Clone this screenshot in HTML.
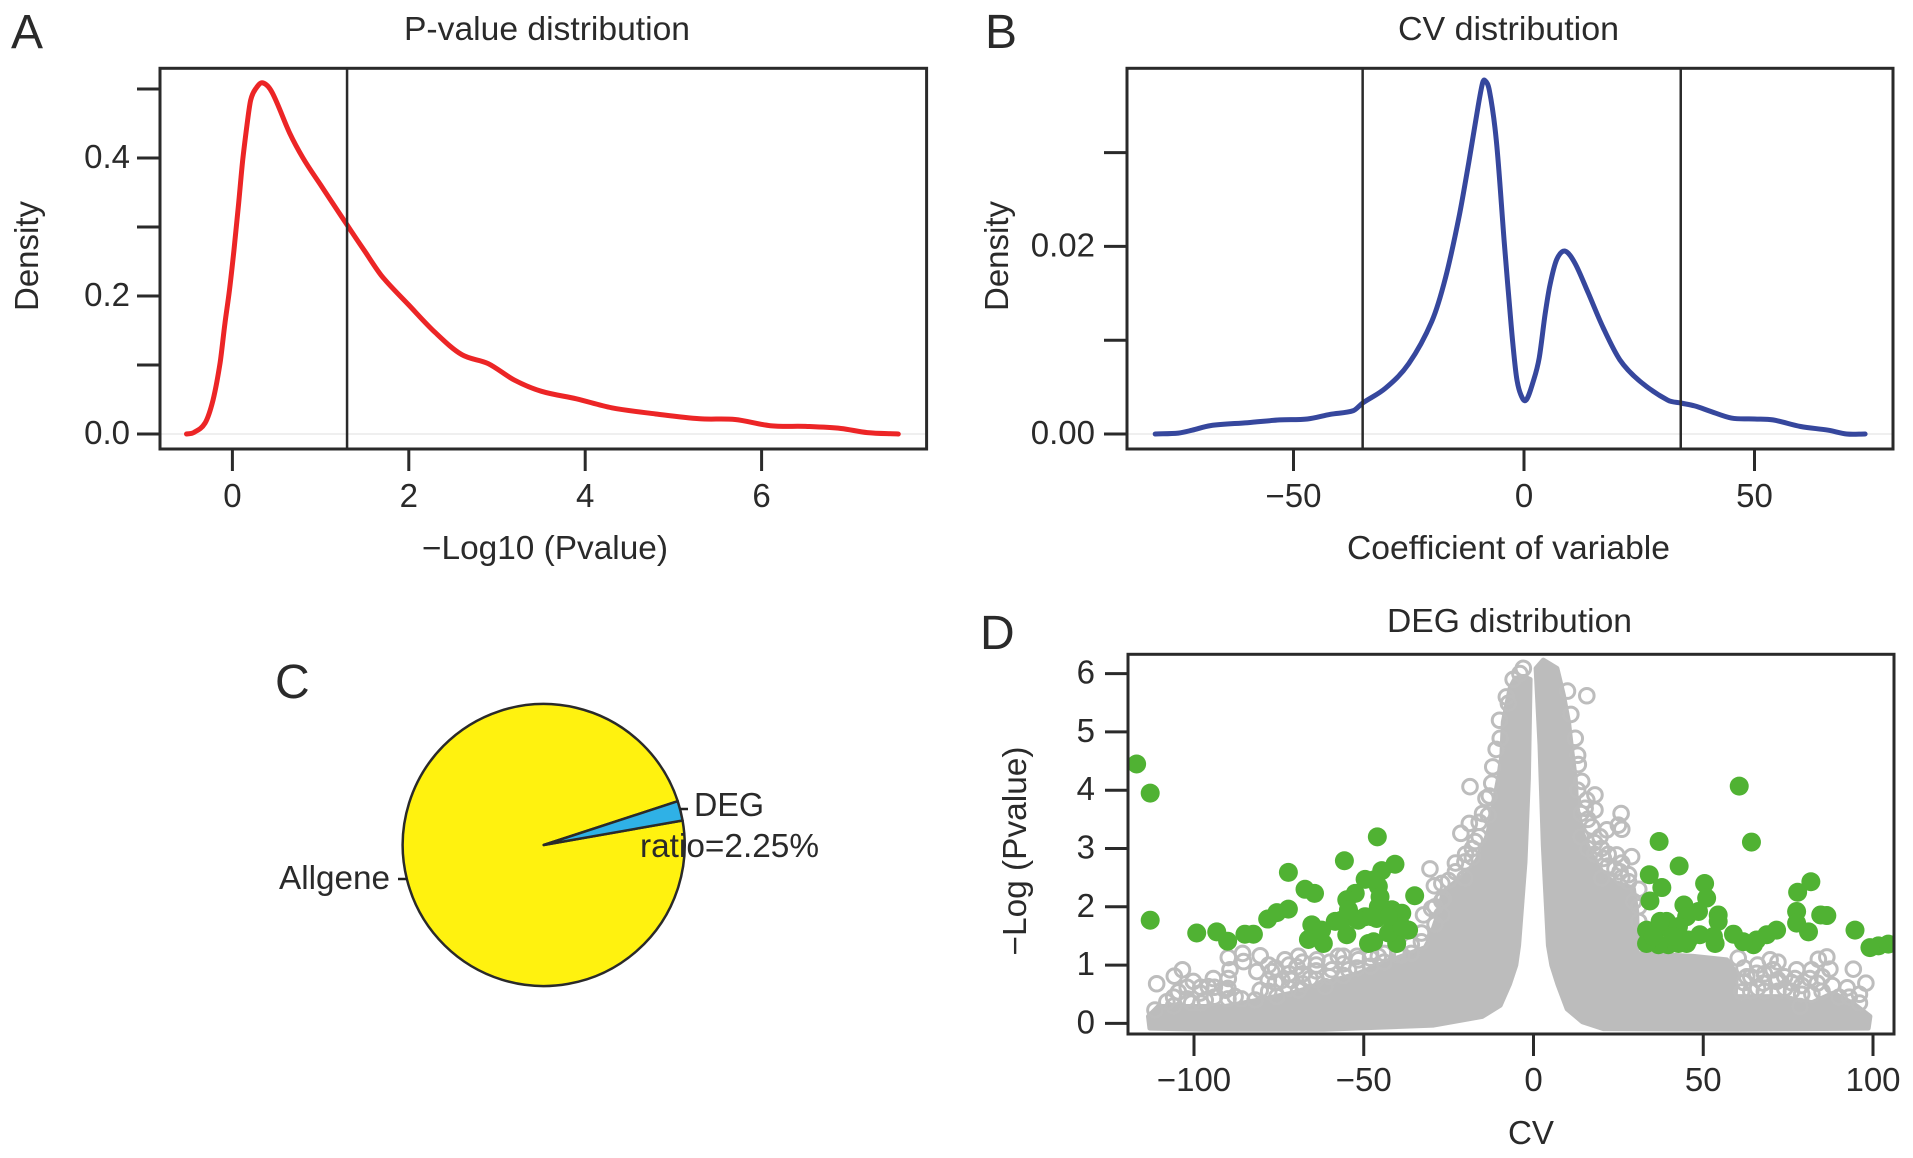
<!DOCTYPE html>
<html lang="en">
<head>
<meta charset="utf-8">
<title>Four panel figure</title>
<style>
html,body{margin:0;padding:0;background:#fff;width:1913px;height:1158px;overflow:hidden}
svg{display:block}
text{font-family:"Liberation Sans",Arial,sans-serif;fill:#2a2a2a}
</style>
</head>
<body>
<svg id="fig" xmlns="http://www.w3.org/2000/svg" width="1913" height="1158" viewBox="0 0 1913 1158">
  <defs><clipPath id="clipD"><rect x="1128" y="654.3" width="766" height="379.7"/></clipPath></defs>
  <g id="panelA"></g>
  <g id="panelB"></g>
  <g id="panelC"></g>
  <g id="panelD"></g>

  <text x="11" y="48" font-size="48">A</text>
  <text x="985" y="48" font-size="48">B</text>
  <text x="275" y="698" font-size="48">C</text>
  <text x="980" y="649" font-size="48">D</text>

  <text x="404" y="40" font-size="33" textLength="286" lengthAdjust="spacingAndGlyphs">P-value distribution</text>
  <text x="1398" y="40" font-size="33" textLength="221" lengthAdjust="spacingAndGlyphs">CV distribution</text>
  <text x="1387" y="632" font-size="33" textLength="245" lengthAdjust="spacingAndGlyphs">DEG distribution</text>

  <text x="422" y="559" font-size="33" textLength="246" lengthAdjust="spacingAndGlyphs">−Log10 (Pvalue)</text>
  <text x="1347" y="559" font-size="33" textLength="323" lengthAdjust="spacingAndGlyphs">Coefficient of variable</text>
  <text x="1508" y="1144" font-size="33" textLength="46" lengthAdjust="spacingAndGlyphs">CV</text>

  <text transform="translate(38,256) rotate(-90)" font-size="33" text-anchor="middle">Density</text>
  <text transform="translate(1008,256) rotate(-90)" font-size="33" text-anchor="middle">Density</text>
  <text transform="translate(1026,851) rotate(-90)" font-size="33" text-anchor="middle" textLength="209" lengthAdjust="spacingAndGlyphs">−Log (Pvalue)</text>

  <g id="pieLabels">
    <line x1="680" y1="809" x2="688" y2="809" stroke="#222" stroke-width="2.5"/>
    <line x1="398" y1="879" x2="407" y2="879" stroke="#222" stroke-width="2.5"/>
    <text x="694" y="816" font-size="33" textLength="70" lengthAdjust="spacingAndGlyphs">DEG</text>
    <text x="640" y="857" font-size="33" textLength="179" lengthAdjust="spacingAndGlyphs">ratio=2.25%</text>
    <text x="279" y="889" font-size="33" textLength="111" lengthAdjust="spacingAndGlyphs">Allgene</text>
  </g>
</svg>

<script>
// Panel A data: P-value density
const pvalX = [-0.52,-0.44,-0.31,-0.22,-0.14,-0.084,-0.033,0.018,0.069,0.117,0.166,0.207,0.268,0.344,0.45,0.65,0.8,1,1.3,1.5,1.7,2,2.3,2.6,2.9,3.2,3.5,3.9,4.3,4.8,5.3,5.7,6.1,6.5,6.9,7.2,7.55];
const pvalDensity = [0,0.002,0.016,0.049,0.103,0.161,0.209,0.267,0.332,0.397,0.448,0.484,0.501,0.509,0.495,0.436,0.4,0.361,0.303,0.265,0.228,0.187,0.147,0.115,0.102,0.078,0.062,0.051,0.038,0.029,0.022,0.021,0.012,0.011,0.008,0.002,0];
const pvalCutoffs = [1.3];
const pvalXTicks = [0,2,4,6];
const pvalYTicks = [0,0.1,0.2,0.3,0.4,0.5];
const pvalYLabels = ['0.0','','0.2','','0.4',''];

// Panel B data: CV density
const cvX = [-80,-75,-72,-68,-60,-53,-47,-42,-37,-35,-30,-25,-20,-17,-14,-12,-10,-9,-8.5,-7.5,-6,-4.3,-3.4,-2.45,-1.6,-0.7,0.43,2,3.3,4.56,5.64,7.1,8.9,11.06,13.96,17.2,20.8,25.2,31.2,34,37,40,45,50,54,60,66,70,74];
const cvDensity = [0,0.0001,0.0004,0.0009,0.0012,0.0015,0.0016,0.0021,0.0025,0.0033,0.0049,0.0075,0.012,0.0167,0.0234,0.0289,0.0348,0.0374,0.0377,0.0366,0.0313,0.0205,0.0152,0.0098,0.006,0.0042,0.0036,0.0056,0.0081,0.0127,0.0159,0.0186,0.0195,0.0182,0.015,0.0113,0.0079,0.0056,0.0036,0.0033,0.003,0.0025,0.0017,0.0016,0.0015,0.0008,0.0004,0,0];
const cvCutoffs = [-35,34];
const cvXTicks = [-50,0,50];
const cvXLabels = ['−50','0','50'];
const cvYTicks = [0,0.01,0.02,0.03];
const cvYLabels = ['0.00','','0.02',''];

// Panel C data: pie
const pieNames = ['DEG','Allgene'];
const pieValues = [2.25,97.75];
const pieStartAngle = 10;

// Panel D data: volcano
const degXTicks = [-100,-50,0,50,100];
const degXLabels = ['−100','−50','0','50','100'];
const degYTicks = [0,1,2,3,4,5,6];
const denseLeftCv = [-1,-1.5,-2.5,-4.4,-5.2,-7.1,-9.8,-15.1,-29.4,-61.6,-97,-113,-113.4,-110.5,-100.7,-90.8,-81,-71.2,-61.4,-51.6,-41.7,-31.9,-30.5,-28.5,-26.5,-21.6,-18.7,-15.2,-13.3,-11.8,-10.3,-9.3,-8.9,-6.9,-5.4,-3];
const denseLeftP = [5.9,4.2,2.77,1.34,1,0.67,0.31,0.12,-0.03,-0.1,-0.1,-0.08,0.12,0.29,0.29,0.29,0.4,0.52,0.69,0.86,1.09,1.3,1.46,1.8,2.26,2.49,2.6,2.95,3.29,3.75,4.2,4.6,5.17,5.75,5.92,5.95];
const denseRightCv = [0.77,1.9,2.9,4.4,5.4,7.2,9.9,14.4,20.6,60,98.6,99.1,94.2,88.3,81.4,73.6,66.7,59.4,59.8,56.9,47.1,30.4,30.6,30.4,29.4,23.5,19.6,16.7,14.2,12.7,12.3,11.3,10.3,8.8,6.9,2.9];
const denseRightP = [6.09,4.77,3.06,1.34,1,0.67,0.25,0.03,-0.09,-0.1,-0.08,0.12,0.34,0.52,0.34,0.46,0.46,0.46,0.86,1.09,1.15,1.2,1.34,1.92,2.32,2.43,2.6,2.95,3.29,3.75,4.2,4.66,5.17,5.63,6.09,6.23];
const grayCv = [-111,-105.8,-103.4,-104.6,-108,-111.5,-100.2,-98.2,-100.7,-96.7,-94.3,-89.9,-89.4,-89.9,-85.7,-85.4,-80.5,-81.5,-80.5,-77.1,-75.6,-73.2,-69.2,-69.7,-71.2,-65.8,-63.8,-59.4,-57.5,-54.5,-61.4,-78.1,-90.8,-95.8,-87.9,-82,-69.2,-74.1,-51.6,-45.7,-38.8,-3,-7.4,-9.8,-18.7,-14,-12.3,-13.3,-18.9,-21.4,-17.2,-20.2,-30.5,-29.2,-20.2,-26.5,-30,-27,-32.4,15.7,12.3,13.2,14.2,18.1,15.7,18.1,15.2,25.8,25,21.6,26,17.2,19.6,24.5,28.9,20.6,20.1,25.5,28,29.5,86.4,83.9,87.3,94.2,97.9,92.4,83.6,81.4,81.9,77.5,77,70.6,71.6,67.7,65.7,62.8,60.3,61.3,69.7,78.5];
const grayP = [0.68,0.81,0.92,0.54,0.37,0.23,0.72,0.52,0.35,0.4,0.77,0.77,0.92,1.13,1.2,1.06,1.16,0.89,0.57,0.89,0.46,1.09,1.15,0.97,0.74,0.77,1.09,0.92,1.15,0.92,0.63,0.74,0.57,0.63,0.46,0.4,0.57,0.74,1.09,1.15,1.17,6.09,5.49,4.89,4.06,3.86,4.12,3.57,3.43,3.26,3.12,2.77,2.65,2.36,2.49,2.14,1.97,1.86,1.86,5.62,4.89,4.44,4.15,3.92,3.83,3.66,3.69,3.6,3.4,3.32,3.33,3.37,3.2,2.89,2.86,2.83,2.49,2.6,2.43,2.09,1.14,1.1,0.93,0.93,0.69,0.61,0.69,0.77,0.92,0.92,0.77,0.92,0.72,0.69,0.86,0.8,1.12,0.54,1.09,0.29];
const fringeCv = [-106,-106,-102,-102,-98,-98,-94,-94,-90,-90,-86,-78,-78,-76,-76,-72,-72,-72,-68,-68,-68,-64,-64,-64,-60,-60,-56,-56,-56,-52,-52,-48,-48,-48,-44,-44,-40,-40,-36,-36,-33,-33,-29,-29,-27,-27,-25,-23,-23,-20,-18,-18,-16,-16,-15,-13,-12,-11,-10,-8,-6,-4,14,14,13,16,16,18,18,20,22,22,24,26,26,28,31,31,31,13,11,10,62,62,64,64,66,66,68,68,72,72,72,74,74,76,76,79,79,82,85,85,88,90,93,96,96];
const fringeP = [0.3,0.45,0.42,0.62,0.35,0.62,0.45,0.62,0.42,0.6,0.42,0.55,1,0.7,0.95,0.6,0.85,1,0.68,0.85,1.05,0.75,0.9,1,0.8,1.05,0.82,1.02,1.15,0.95,1.15,0.98,1.12,1.2,1.05,1.2,1.18,1.25,1.2,1.35,1.4,1.55,1.7,2,2.1,2.4,2.45,2.6,2.75,2.9,2.85,3,3.2,3.45,3.6,3.9,4.4,4.7,5.2,5.6,5.9,6,3.6,3.2,4,3,3.5,3.1,2.9,3,2.7,2.9,2.65,2.5,2.75,2.55,2.3,2,1.75,4.6,5.3,5.7,0.7,0.95,0.55,0.8,0.6,1,0.55,0.85,0.55,0.75,1.05,0.6,0.8,0.55,0.7,0.5,0.65,0.5,0.55,0.8,0.65,0.45,0.45,0.35,0.5];
const greenCv = [-116.9,-112.9,-112.9,-99.2,-93.3,-90.1,-85,-82.5,-78.3,-75.6,-72.2,-72.2,-67.3,-64.5,-55.7,-46,-40.8,-44.7,-49.6,-47.1,-45.7,-52.5,-55,-35,-65.3,-66.3,-61.9,-62.4,-58.4,-55,-53.5,-56.5,-49.6,-45.7,-45.2,-41.7,-38.8,-36.8,-40.3,-42.7,-48.6,-47.1,-51.6,-46.2,-38.8,-42.7,-47.6,-54.5,60.6,64.2,37,42.9,34.1,37.8,34.3,50.4,51,44.3,48.6,54.4,54.4,81.7,77.8,77.5,77.5,81,84.6,86.4,94.7,99.1,101.6,104.5,71.6,68.7,65.7,64.8,61.8,58.9,53.5,53,49,45.1,45.1,42.7,39.7,36.8,33.3,33.3,36.3,39.2,42.7,37.3,45.6,41.2,35.3];
const greenP = [4.45,3.95,1.77,1.55,1.57,1.41,1.53,1.53,1.79,1.9,1.96,2.59,2.3,2.23,2.79,3.2,2.73,2.62,2.47,2.46,2.35,2.23,2.12,2.19,1.69,1.44,1.37,1.6,1.75,1.52,1.83,1.77,1.83,2,2.17,1.95,1.89,1.6,1.37,1.55,1.37,1.4,1.77,1.8,1.66,1.83,1.83,1.95,4.07,3.11,3.12,2.7,2.55,2.33,2.1,2.4,2.15,2.03,1.92,1.86,1.75,2.43,2.25,1.92,1.72,1.57,1.86,1.85,1.6,1.3,1.33,1.36,1.6,1.52,1.43,1.35,1.4,1.53,1.37,1.49,1.52,1.37,1.83,1.37,1.35,1.35,1.37,1.6,1.6,1.75,1.66,1.75,1.43,1.49,1.49];

// Axis functions
const xA = v => 232.4 + 88.2 * v;
const yA = v => 434 - 690 * v;
const xB = v => 1524 + 4.61 * v;
const yB = v => 434 - 9380 * v;
const xD = v => 1533.5 + 3.395 * v;
const yD = v => 1023.4 - 58.3 * v;

const NS = 'http://www.w3.org/2000/svg';
function make(parent, tag, attrs, txt) {
  const el = document.createElementNS(NS, tag);
  for (const k in attrs) el.setAttribute(k, attrs[k]);
  if (txt !== undefined) el.textContent = txt;
  parent.appendChild(el);
  return el;
}
// Hermite spline with finite-difference tangents, suited to unevenly spaced x
function smooth(pts) {
  const n = pts.length;
  const slope = i => {
    const a = pts[Math.max(i - 1, 0)], b = pts[Math.min(i + 1, n - 1)];
    return (b[1] - a[1]) / (b[0] - a[0]);
  };
  let d = 'M' + pts[0][0].toFixed(1) + ' ' + pts[0][1].toFixed(1);
  for (let i = 0; i < n - 1; i++) {
    const p = pts[i], q = pts[i + 1], h = (q[0] - p[0]) / 3;
    d += 'C' + (p[0] + h).toFixed(1) + ' ' + (p[1] + slope(i) * h).toFixed(1) + ' ' + (q[0] - h).toFixed(1) + ' ' + (q[1] - slope(i + 1) * h).toFixed(1) + ' ' + q[0].toFixed(1) + ' ' + q[1].toFixed(1);
  }
  return d;
}
const INK = '#2a2a2a';

function drawFrame(g, l, t, r, b) {
  const el = make(g, 'rect', {x: l, y: t, width: r - l, height: b - t, fill: 'none', stroke: INK, 'stroke-width': 3});
  
  
}
function drawXAxis(g, ticks, labels, sx, b, base) {
  ticks.forEach((v, i) => {
    const t = make(g, 'line', {x1: sx(v), x2: sx(v), y1: b, y2: b + 22, stroke: INK, 'stroke-width': 3});
    
    
    const s = make(g, 'text', {x: sx(v), y: base, 'font-size': 33, 'text-anchor': 'middle'}, labels[i]);
    
    
  });
}
function drawYAxis(g, ticks, labels, sy, l, right) {
  ticks.forEach((v, i) => {
    const t = make(g, 'line', {x1: l - 23, x2: l, y1: sy(v), y2: sy(v), stroke: INK, 'stroke-width': 3});
    
    
    if (labels[i]) {
      const s = make(g, 'text', {x: right, y: sy(v) + 10, 'font-size': 33, 'text-anchor': 'end'}, labels[i]);
      
      
    }
  });
}

// Panel A
(function () {
  const g = document.getElementById('panelA');
  const z = make(g, 'line', {x1: 160, x2: 926.6, y1: yA(0), y2: yA(0), stroke: '#efefef', 'stroke-width': 2});
  
  
  const c = make(g, 'path', {d: smooth(pvalX.map((v, i) => [xA(v), yA(pvalDensity[i])])), fill: 'none', stroke: '#ec2526', 'stroke-width': 5, 'stroke-linejoin': 'round', 'stroke-linecap': 'round'});
  
  
  pvalCutoffs.forEach(v => {
    const l = make(g, 'line', {x1: xA(v), x2: xA(v), y1: 68.3, y2: 449, stroke: INK, 'stroke-width': 2.5});
    
    
  });
  drawFrame(g, 160, 68.3, 926.6, 449);
  drawXAxis(g, pvalXTicks, pvalXTicks.map(String), xA, 449, 507);
  drawYAxis(g, pvalYTicks, pvalYLabels, yA, 160, 130);
})();

// Panel B
(function () {
  const g = document.getElementById('panelB');
  const z = make(g, 'line', {x1: 1127, x2: 1893, y1: yB(0), y2: yB(0), stroke: '#efefef', 'stroke-width': 2});
  
  
  const c = make(g, 'path', {d: smooth(cvX.map((v, i) => [xB(v), yB(cvDensity[i])])), fill: 'none', stroke: '#36479d', 'stroke-width': 5, 'stroke-linejoin': 'round', 'stroke-linecap': 'round'});
  
  
  cvCutoffs.forEach(v => {
    const l = make(g, 'line', {x1: xB(v), x2: xB(v), y1: 68.3, y2: 449, stroke: INK, 'stroke-width': 2.5});
    
    
  });
  drawFrame(g, 1127, 68.3, 1893, 449);
  drawXAxis(g, cvXTicks, cvXLabels, xB, 449, 507);
  drawYAxis(g, cvYTicks, cvYLabels, yB, 1127, 1095);
})();

// Panel C
(function () {
  const g = document.getElementById('panelC');
  const cx = 543.7, cy = 845, R = 141;
  const total = pieValues.reduce((a, b) => a + b, 0);
  const colors = ['#2fb1e6', '#fff20f'];
  const order = [1, 0];
  const sweeps = pieValues.map(v => v / total * 360);
  const pt = a => [cx + R * Math.cos(a * Math.PI / 180), cy - R * Math.sin(a * Math.PI / 180)];
  const starts = [pieStartAngle, pieStartAngle + sweeps[0]];
  order.forEach(i => {
    const a0 = starts[i], a1 = a0 + sweeps[i];
    const p0 = pt(a0), p1 = pt(a1);
    const d = 'M' + cx + ' ' + cy + 'L' + p0[0].toFixed(2) + ' ' + p0[1].toFixed(2) + 'A' + R + ' ' + R + ' 0 ' + (sweeps[i] > 180 ? 1 : 0) + ' 0 ' + p1[0].toFixed(2) + ' ' + p1[1].toFixed(2) + 'Z';
    const s = make(g, 'path', {d: d, fill: colors[i], stroke: INK, 'stroke-width': 2.5, 'stroke-linejoin': 'round'});
    
    
  });
})();

// Panel D
(function () {
  const g = document.getElementById('panelD');
  const plot = make(g, 'g', {'clip-path': 'url(#clipD)'});
  
  
  const polyPts = (xs, ys) => xs.map((v, i) => xD(v).toFixed(1) + ',' + yD(ys[i]).toFixed(1)).join(' ');
  const ml = make(plot, 'polygon', {points: polyPts(denseLeftCv, denseLeftP), fill: '#bcbcbc', stroke: '#bcbcbc', 'stroke-width': 5, 'stroke-linejoin': 'round'});
  
  
  const mr = make(plot, 'polygon', {points: polyPts(denseRightCv, denseRightP), fill: '#bcbcbc', stroke: '#bcbcbc', 'stroke-width': 5, 'stroke-linejoin': 'round'});
  
  
  fringeCv.forEach((v, i) => {
    const c = make(plot, 'circle', {cx: xD(v), cy: yD(fringeP[i]), r: 7.3, fill: 'none', stroke: '#bdbdbd', 'stroke-width': 3});
    
    
  });
  grayCv.forEach((v, i) => {
    const c = make(plot, 'circle', {cx: xD(v), cy: yD(grayP[i]), r: 7.3, fill: 'none', stroke: '#bdbdbd', 'stroke-width': 3});
    
    
  });
  greenCv.forEach((v, i) => {
    const c = make(plot, 'circle', {cx: xD(v), cy: yD(greenP[i]), r: 9.5, fill: '#50b233'});
    
    
  });
  drawFrame(g, 1128, 654.3, 1894, 1034);
  drawXAxis(g, degXTicks, degXLabels, xD, 1034, 1091);
  drawYAxis(g, degYTicks, degYTicks.map(String), yD, 1128, 1095);
})();
</script>
</body>
</html>
